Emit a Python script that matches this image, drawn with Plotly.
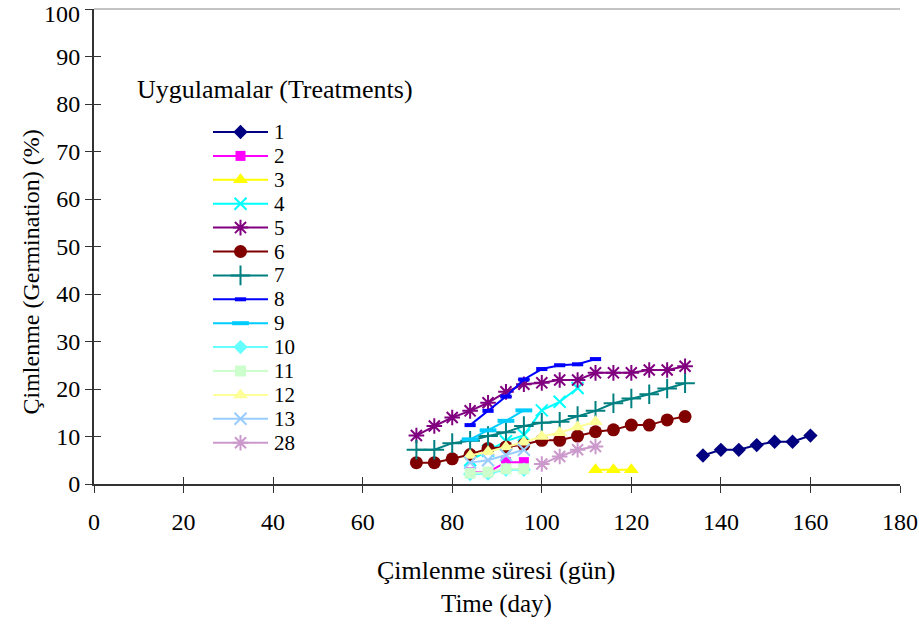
import plotly.graph_objects as go

# ---------------- data ----------------
names = ["1", "2", "3", "4", "5", "6", "7", "8", "9", "10", "11", "12", "13", "28"]

x1 = [136, 140, 144, 148, 152, 156, 160]
y1 = [6, 7.2, 7.2, 8.2, 8.9, 8.9, 10.2]

x2 = [84, 88, 92, 96]
y2 = [2.5, 2.5, 4.6, 4.6]

x3 = [112, 116, 120]
y3 = [3, 3, 3]

x4 = [84, 88, 92, 96, 100, 104, 108]
y4 = [5, 7, 9, 10.3, 15.5, 17.3, 20.2]

x5 = [72, 76, 80, 84, 88, 92, 96, 100, 104, 108, 112, 116, 120, 124, 128, 132]
y5 = [10.2, 12.2, 14, 15.4, 17.1, 19.4, 21, 21.3, 21.9, 21.9, 23.4, 23.4, 23.4, 24, 24, 24.8]

x6 = [72, 76, 80, 84, 88, 92, 96, 100, 104, 108, 112, 116, 120, 124, 128, 132]
y6 = [4.5, 4.5, 5.3, 6.2, 7.5, 7.8, 8.3, 9.2, 9.2, 10.1, 11, 11.4, 12.4, 12.4, 13.5, 14.2]

x7 = [72, 76, 80, 84, 88, 92, 96, 100, 104, 108, 112, 116, 120, 124, 128, 132]
y7 = [7.2, 7.2, 8.6, 9.1, 10.1, 10.9, 12.2, 12.9, 13.1, 14.3, 15.4, 17, 18, 18.9, 20.1, 21.2]

x8 = [84, 88, 92, 96, 100, 104, 108, 112]
y8 = [12.4, 15.4, 18.4, 22, 24.2, 25, 25.2, 26.3]

x9 = [84, 88, 92, 96]
y9 = [9.4, 11.3, 13.3, 15.5]

x10 = [84, 88, 92, 96]
y10 = [2.1, 2.2, 3, 3]

x11 = [84, 88, 92, 96]
y11 = [2.3, 2.5, 3.2, 3.2]

x12 = [84, 88, 92, 96, 100, 104, 108, 112]
y12 = [6, 6.8, 7.8, 8.8, 10, 10.8, 12, 13.1]

x13 = [84, 88, 92, 96]
y13 = [4.5, 5, 6.1, 7.2]

x28 = [100, 104, 108, 112]
y28 = [4.2, 5.8, 7.2, 7.9]

x_ticks = [0, 20, 40, 60, 80, 100, 120, 140, 160, 180]
y_ticks = [0, 10, 20, 30, 40, 50, 60, 70, 80, 90, 100]
y_ticktext = ["0", "10", "20", "30", "40", "50", "60", "70", "80", "90", ""]  # top label drawn as annotation
y_top_label = "100"

# ---------------- styles ----------------
series = [
    (x1, y1, "#000080", dict(symbol="diamond", size=11)),
    (x2, y2, "#FF00FF", dict(symbol="square", size=10)),
    (x3, y3, "#FFFF00", dict(symbol="triangle-up", size=13)),
    (x4, y4, "#00FFFF", dict(symbol="x-thin-open", size=12, line=dict(width=2, color="#00FFFF"))),
    (x5, y5, "#800080", dict(symbol="asterisk-open", size=13, line=dict(width=2, color="#800080"))),
    (x6, y6, "#800000", dict(symbol="circle", size=13)),
    (x7, y7, "#008080", dict(symbol="cross-thin-open", size=14, line=dict(width=2, color="#008080"))),
    (x8, y8, "#0000FF", dict(symbol="line-ew-open", size=8, line=dict(width=4, color="#0000FF"))),
    (x9, y9, "#00CCFF", dict(symbol="line-ew-open", size=12, line=dict(width=4, color="#00CCFF"))),
    (x10, y10, "#66FFFF", dict(symbol="diamond", size=11)),
    (x11, y11, "#CCFFCC", dict(symbol="square", size=11)),
    (x12, y12, "#FFFF99", dict(symbol="triangle-up", size=13)),
    (x13, y13, "#99CCFF", dict(symbol="x-thin-open", size=12, line=dict(width=2, color="#99CCFF"))),
    (x28, y28, "#CC99CC", dict(symbol="asterisk-open", size=13, line=dict(width=2, color="#CC99CC"))),
]

FONT = "Liberation Serif, Times New Roman, serif"

fig = go.Figure()

for (xs, ys, col, mk), nm in zip(series, names):
    m = dict(color=col, **mk)
    fig.add_trace(go.Scatter(x=xs, y=ys, mode="lines+markers", name=nm,
                             line=dict(color=col, width=2), marker=m,
                             showlegend=False, cliponaxis=False))

# ---------------- custom legend (on pixel-mapped overlay axes) ----------------
leg_top = 132
leg_step = 23.9
annotations = []
for i, ((xs, ys, col, mk), nm) in enumerate(zip(series, names)):
    yy = leg_top + leg_step * i
    fig.add_trace(go.Scatter(x=[213, 268], y=[yy, yy], mode="lines",
                             line=dict(color=col, width=2), xaxis="x3", yaxis="y3",
                             showlegend=False, hoverinfo="skip"))
    fig.add_trace(go.Scatter(x=[240.5], y=[yy], mode="markers",
                             marker=dict(color=col, **mk), xaxis="x3", yaxis="y3",
                             showlegend=False, hoverinfo="skip"))
    annotations.append(dict(x=273, y=yy, xref="x3", yref="y3", text=nm, showarrow=False,
                            xanchor="left", yanchor="middle", borderpad=0,
                            font=dict(family=FONT, size=21, color="black")))

# dummy trace so the tick-overlay axes exist
fig.add_trace(go.Scatter(x=[], y=[], xaxis="x2", yaxis="y2", showlegend=False))

annotations += [
    dict(x=0, y=y_ticks[-1], xref="paper", yref="y", text=y_top_label, showarrow=False,
         xanchor="right", yanchor="top", xshift=-13, yshift=9, borderpad=0,
         font=dict(family=FONT, size=24, color="black")),
    dict(x=135, y=89, xref="x3", yref="y3", text="Uygulamalar (Treatments)", showarrow=False,
         xanchor="left", yanchor="middle", font=dict(family=FONT, size=26, color="black")),
    dict(x=(30 - 94) / 806, y=(484 - 272.5) / 475, xref="paper", yref="paper",
         text="Çimlenme (Germination) (%)", textangle=-90, showarrow=False,
         xanchor="center", yanchor="middle", font=dict(family=FONT, size=24, color="black")),
    dict(x=(496 - 94) / 806, y=(484 - 570) / 475, xref="paper", yref="paper",
         text="Çimlenme süresi (gün)", showarrow=False,
         xanchor="center", yanchor="middle", font=dict(family=FONT, size=26, color="black")),
    dict(x=(496 - 94) / 806, y=(484 - 604) / 475, xref="paper", yref="paper",
         text="Time (day)", showarrow=False,
         xanchor="center", yanchor="middle", font=dict(family=FONT, size=25, color="black")),
]

axis_common = dict(showgrid=False, zeroline=False, automargin=False)

fig.update_layout(
    template="none",
    width=919, height=625,
    margin=dict(l=94, r=19, t=9, b=141, pad=0, autoexpand=False),
    paper_bgcolor="white", plot_bgcolor="white",
    font=dict(family=FONT, size=24, color="black"),
    xaxis=dict(range=[0, 180], tickvals=x_ticks, ticks="outside", ticklen=7, tickwidth=1,
               tickcolor="#333333", showline=True, linecolor="#333333", linewidth=2,
               ticklabeloverflow="allow", ticklabelstandoff=8,
               tickfont=dict(family=FONT, size=24, color="black"), **axis_common),
    yaxis=dict(range=[0, 100], tickvals=y_ticks, ticktext=y_ticktext, ticks="outside",
               ticklen=7, tickwidth=1,
               tickcolor="#333333", showline=True, linecolor="#333333", linewidth=2,
               ticklabeloverflow="allow",
               tickfont=dict(family=FONT, size=24, color="black"), **axis_common),
    xaxis2=dict(range=[0, 180], tickvals=x_ticks, ticks="inside", ticklen=7, tickwidth=1,
                tickcolor="#333333", showticklabels=False, showline=False,
                overlaying="x", anchor="y", **axis_common),
    yaxis2=dict(range=[0, 100], tickvals=y_ticks, ticks="inside", ticklen=7, tickwidth=1,
                tickcolor="#333333", showticklabels=False, showline=False,
                overlaying="y", anchor="x", **axis_common),
    xaxis3=dict(range=[94, 900], visible=False, overlaying="x", anchor="y3", **axis_common),
    yaxis3=dict(range=[484, 9], visible=False, overlaying="y", anchor="x3", **axis_common),
    annotations=annotations,
    shapes=[dict(type="line", xref="paper", yref="paper", x0=0, x1=1, y0=1, y1=1,
                 line=dict(color="#888888", width=1))],
    showlegend=False,
)

fig.write_html("out.html")
